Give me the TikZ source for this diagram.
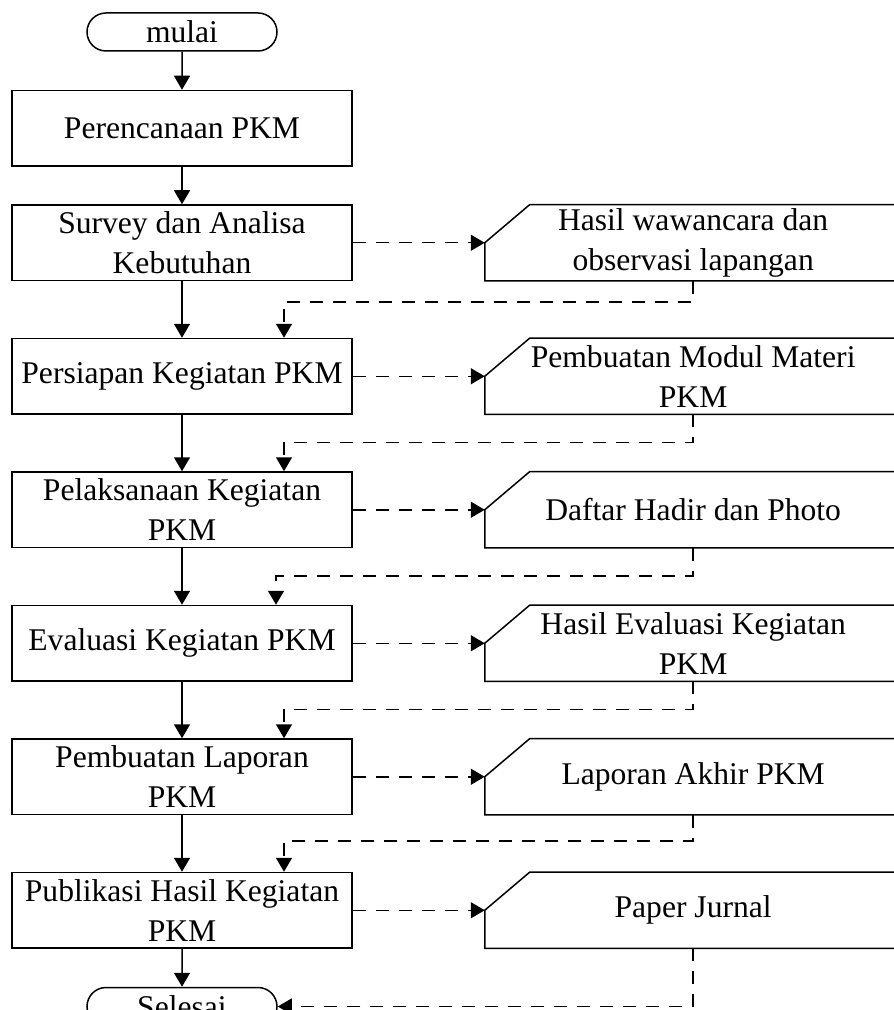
\documentclass[tikz,border=0pt]{standalone}
\usepackage{fontspec}
\setmainfont{Liberation Serif}
\usetikzlibrary{arrows.meta,positioning,shapes.misc}

\begin{document}
\begin{tikzpicture}[
        node distance=28.25pt and 66pt,
        procbox/.style={draw, rectangle, line width=0.75pt, align=center, inner sep=0pt, minimum width=170pt, minimum height=37.75pt, font=\fontsize{15.8pt}{20pt}\selectfont},
        termbox/.style={draw, rounded rectangle, line width=0.75pt, inner sep=0pt, minimum width=95pt, minimum height=19pt, font=\fontsize{15.8pt}{20pt}\selectfont},
        datain/.style={rectangle, align=center, inner sep=0pt, minimum width=208pt, minimum height=37.75pt, font=\fontsize{15.8pt}{20pt}\selectfont},
        flow/.style={->, line width=0.75pt},
        flowd/.style={->, line width=0.75pt, dash pattern=on 6.5pt off 5pt},
        >={Triangle[length=7pt, width=8pt]}
    ]
        \useasboundingbox (0,0) rectangle (446.5pt,-505pt);

        % main column
        \node[termbox] (start) at (91pt,-16pt) {mulai};
        \node[procbox, below=19pt of start] (plan) {Perencanaan PKM};
        \node[procbox, below=18.75pt of plan] (survey) {Survey dan Analisa\\Kebutuhan};
        \node[procbox, below=of survey] (prep) {Persiapan Kegiatan PKM};
        \node[procbox, below=of prep] (exec) {Pelaksanaan Kegiatan\\PKM};
        \node[procbox, below=of exec] (eval) {Evaluasi Kegiatan PKM};
        \node[procbox, below=of eval] (report) {Pembuatan Laporan\\PKM};
        \node[procbox, below=of report] (publish) {Publikasi Hasil Kegiatan\\PKM};
        \node[termbox, below=19pt of publish] (finish) {Selesai};

        % outputs
        \node[datain, right=of survey] (interview) {Hasil wawancara dan\\observasi lapangan};
        \node[datain, right=of prep] (module) {Pembuatan Modul Materi\\PKM};
        \node[datain, right=of exec] (attend) {Daftar Hadir dan Photo};
        \node[datain, right=of eval] (evalres) {Hasil Evaluasi Kegiatan\\PKM};
        \node[datain, right=of report] (finalrep) {Laporan Akhir PKM};
        \node[datain, right=of publish] (paper) {Paper Jurnal};
        \foreach \n in {interview,module,attend,evalres,finalrep,paper}
            \draw[line width=0.75pt] (\n.south west) -- (\n.west) -- ([xshift=22.5pt]\n.north west) -- (\n.north east) -- (\n.south east) -- cycle;

        \draw[flow] (start) -- (plan);
        \draw[flow] (plan) -- (survey);
        \draw[flow] (survey) -- (prep);
        \draw[flow] (prep) -- (exec);
        \draw[flow] (exec) -- (eval);
        \draw[flow] (eval) -- (report);
        \draw[flow] (report) -- (publish);
        \draw[flow] (publish) -- (finish);

        \draw[flowd] (survey) -- (interview);
        \draw[flowd] (prep) -- (module);
        \draw[flowd] (exec) -- (attend);
        \draw[flowd] (eval) -- (evalres);
        \draw[flowd] (report) -- (finalrep);
        \draw[flowd] (publish) -- (paper);

        \draw[flowd] (interview.south) -- ++(0,-10.5pt) -| ([xshift=51pt]prep.north);
        \draw[flowd] (module.south) -- ++(0,-14pt) -| ([xshift=51pt]exec.north);
        \draw[flowd] (attend.south) -- ++(0,-14pt) -| ([xshift=47pt]eval.north);
        \draw[flowd] (evalres.south) -- ++(0,-14pt) -| ([xshift=51pt]report.north);
        \draw[flowd] (finalrep.south) -- ++(0,-13pt) -| ([xshift=51pt]publish.north);
        \draw[flowd] (paper.south) |- (finish.east);
    \end{tikzpicture}
\end{document}
